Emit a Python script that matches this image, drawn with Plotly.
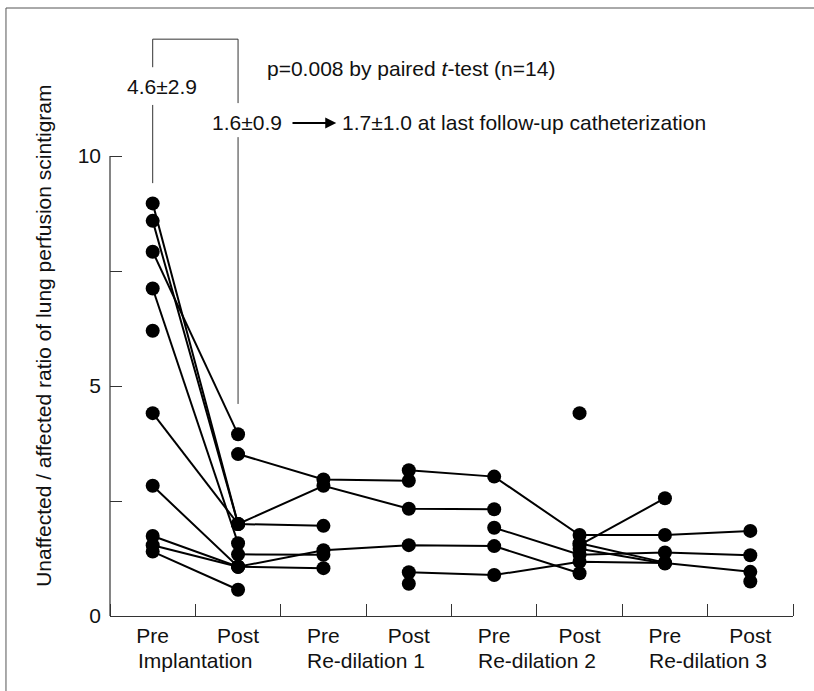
import plotly.graph_objects as go

# ---- data ----
stage_labels = ["Pre", "Post", "Pre", "Post", "Pre", "Post", "Pre", "Post"]
group_labels = ["Implantation", "Re-dilation 1", "Re-dilation 2", "Re-dilation 3"]
stage_pos = [0, 1, 2, 3, 4, 5, 6, 7]
group_pos = [0.5, 2.5, 4.5, 6.5]

y_ticks = [0, 2.5, 5, 7.5, 10]
y_ticktext = ["0", "", "5", "", "10"]

# each patient: values at the 8 stages (None = not measured)
pt01 = [8.97, 2.00, 2.83, 2.33, 2.32, None, None, None]
pt02 = [8.59, 2.00, 1.96, None, None, None, None, None]
pt03 = [7.92, 3.95, None, None, None, None, None, None]
pt04 = [7.12, 1.58, None, None, None, None, None, None]
pt05 = [6.20, None, None, None, None, None, None, None]
pt06 = [4.41, 2.00, None, None, None, None, None, None]
pt07 = [2.83, 1.07, 1.43, 1.54, 1.52, 0.93, None, None]
pt08 = [1.74, 1.07, 1.04, None, None, None, None, None]
pt09 = [1.54, 1.07, None, None, None, None, None, None]
pt10 = [1.40, 0.57, None, None, None, None, None, None]
pt11 = [None, 3.52, 2.97, 2.94, None, None, None, None]
pt12 = [None, 1.34, 1.33, None, None, None, None, None]
pt13 = [None, None, None, 3.17, 3.03, 1.76, 1.76, 1.85]
pt14 = [None, None, None, 0.95, 0.89, 1.18, 1.15, 0.96]
pt15 = [None, None, None, 0.70, None, None, None, None]
pt16 = [None, None, None, None, 1.92, 1.33, 1.38, 1.32]
pt17 = [None, None, None, None, None, 1.54, 2.56, None]
pt18 = [None, None, None, None, None, 4.41, None, None]
pt19 = [None, None, None, None, None, 1.46, 1.14, None]
pt20 = [None, None, None, None, None, None, None, 0.75]
pt21 = [None, None, None, None, None, 1.58, 1.16, None]

patients = [pt01, pt02, pt03, pt04, pt05, pt06, pt07, pt08, pt09, pt10, pt11,
            pt12, pt13, pt14, pt15, pt16, pt17, pt18, pt19, pt20, pt21]

impl_pre_text = "4.6\u00b12.9"
impl_post_text = "1.6\u00b10.9"
followup_text = "1.7\u00b11.0 at last follow-up catheterization"
p_text = "p=0.008 by paired <i>t</i>-test (n=14)"
y_title = "Unaffected / affected ratio of lung perfusion scintigram"

FONT = "Liberation Sans, Arial, Helvetica, sans-serif"
FS = 21
INK = "#111111"
AX = "#333333"

fig = go.Figure()
for pt in patients:
    fig.add_trace(go.Scatter(
        x=stage_pos, y=pt, mode="lines+markers", connectgaps=False,
        line=dict(color="black", width=2),
        marker=dict(color="black", size=14),
        showlegend=False, hoverinfo="skip", cliponaxis=False))

shapes = [
    # y axis line only from 0 to 10
    dict(type="line", xref="paper", yref="y", x0=0, x1=0, y0=0, y1=10,
         line=dict(color=AX, width=1.2)),
    # bracket
    dict(type="line", xref="x", yref="y", x0=0, x1=1, y0=12.54, y1=12.54,
         line=dict(color=AX, width=1)),
    dict(type="line", xref="x", yref="y", x0=0, x1=0, y0=12.54, y1=11.93,
         line=dict(color=AX, width=1)),
    dict(type="line", xref="x", yref="y", x0=0, x1=0, y0=11.11, y1=9.41,
         line=dict(color=AX, width=1)),
    dict(type="line", xref="x", yref="y", x0=1, x1=1, y0=12.54, y1=11.15,
         line=dict(color=AX, width=1)),
    dict(type="line", xref="x", yref="y", x0=1, x1=1, y0=10.41, y1=4.61,
         line=dict(color=AX, width=1)),
    # figure frame (left and top edges)
    dict(type="line", xref="paper", yref="paper", x0=-0.1523, x1=-0.1523,
         y0=-0.2, y1=1.0167, line=dict(color="#555555", width=1)),
    dict(type="line", xref="paper", yref="paper", x0=-0.1523, x1=1.1,
         y0=1.0167, y1=1.0167, line=dict(color="#555555", width=1)),
]

annotations = [
    dict(text=impl_pre_text, x=0.11, y=11.52, xref="x", yref="y",
         showarrow=False, xanchor="center", yanchor="middle",
         font=dict(family=FONT, size=FS, color=INK)),
    dict(text=p_text, x=1.31, y=11.91, xref="x", yref="y",
         showarrow=False, xanchor="left", yanchor="middle",
         font=dict(family=FONT, size=FS, color=INK)),
    dict(text=impl_post_text, x=1.54, y=10.72, xref="x", yref="y",
         showarrow=False, xanchor="right", yanchor="middle",
         font=dict(family=FONT, size=FS, color=INK)),
    dict(text="", x=2.15, y=10.72, ax=1.62, ay=10.72, xref="x", yref="y",
         axref="x", ayref="y", showarrow=True, arrowhead=2, arrowsize=1.1,
         arrowwidth=2, arrowcolor="black"),
    dict(text=followup_text, x=2.19, y=10.72, xref="x", yref="y",
         showarrow=False, xanchor="left", yanchor="middle",
         font=dict(family=FONT, size=FS, color=INK)),
    dict(text=y_title, x=0, xshift=-66, y=6.09, xref="paper", yref="y",
         showarrow=False, textangle=-90, xanchor="center", yanchor="middle",
         font=dict(family=FONT, size=FS, color=INK)),
]
for gx, gl in zip(group_pos, group_labels):
    annotations.append(dict(text=gl, x=gx, y=-0.0736, xref="x", yref="paper",
                            showarrow=False, xanchor="center", yanchor="middle",
                            font=dict(family=FONT, size=FS, color=INK)))

fig.update_layout(
    width=814, height=691, autosize=False,
    margin=dict(l=110, r=21, t=18, b=75, pad=0),
    paper_bgcolor="white", plot_bgcolor="white",
    font=dict(family=FONT, size=FS, color=INK),
    shapes=shapes, annotations=annotations,
    xaxis=dict(range=[-0.5, 7.5], tickmode="array", tickvals=stage_pos,
               ticktext=stage_labels, ticks="", showline=True, linecolor=AX,
               linewidth=1.2, showgrid=False, zeroline=False,
               tickfont=dict(family=FONT, size=FS, color=INK),
               ticklabelstandoff=1,
               minor=dict(ticks="inside", ticklen=12, tickcolor=AX,
                          tickwidth=1, tick0=0.5, dtick=1, showgrid=False)),
    yaxis=dict(range=[0, 13], tickmode="array", tickvals=y_ticks,
               ticktext=y_ticktext, ticks="inside", ticklen=12, tickcolor=AX,
               tickwidth=1, showline=False, showgrid=False, zeroline=False,
               tickfont=dict(family=FONT, size=FS, color=INK),
               ticklabelstandoff=8),
)

fig.write_html("out.html")
